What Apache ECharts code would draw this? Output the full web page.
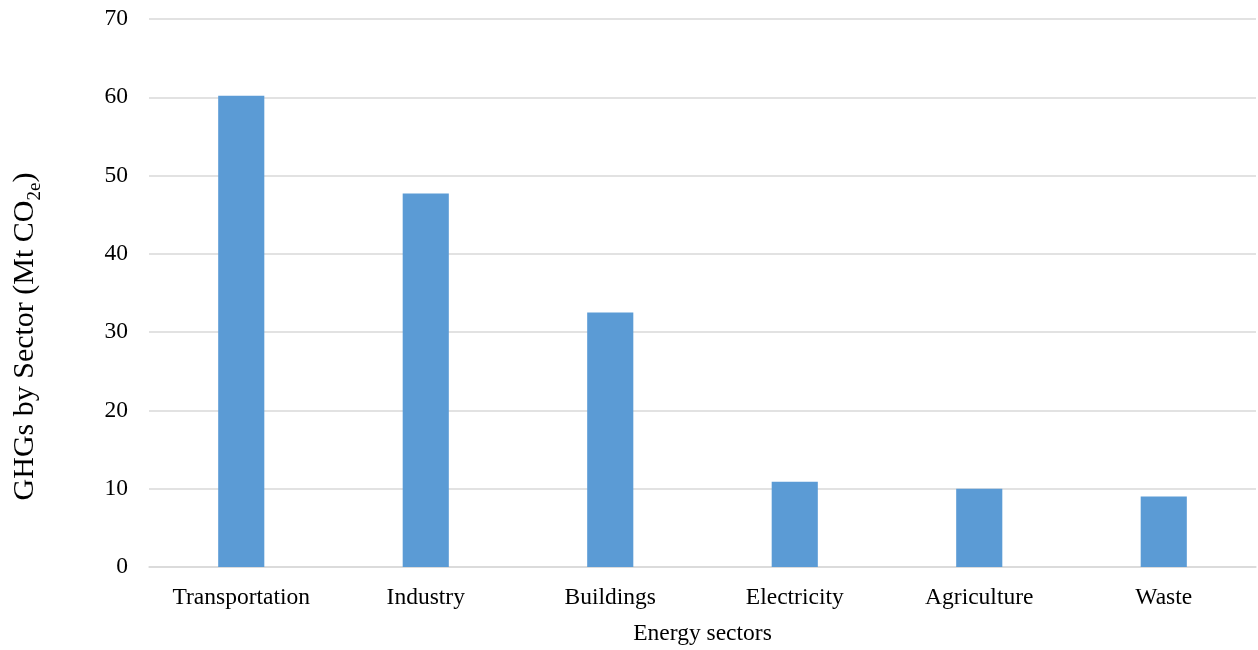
<!DOCTYPE html>
<html>
<head>
<meta charset="utf-8">
<title>GHGs by Sector</title>
<script src="https://cdn.jsdelivr.net/npm/echarts@6/dist/echarts.min.js"></script>
<style>
  html, body { margin: 0; padding: 0; background: #ffffff; }
  #chart { width: 1258px; height: 650px; }
</style>
</head>
<body>
<div id="chart"></div>
<script>
// Sector emissions, Mt CO2e
const sectors = ['Transportation', 'Industry', 'Buildings', 'Electricity', 'Agriculture', 'Waste'];
const emissions = [60.2, 47.7, 32.5, 10.9, 10.0, 9.0];
const yTicks = [0, 10, 20, 30, 40, 50, 60, 70];

const FONT = '"Liberation Serif", "Times New Roman", serif';
const FONT_SIZE = 23.5;

const chart = echarts.init(document.getElementById('chart'), null, { renderer: 'canvas' });

chart.setOption({
  backgroundColor: '#ffffff',
  animation: false,
  grid: { left: 149, right: 2, top: 19, bottom: 83, containLabel: false, outerBoundsMode: 'none' },
  xAxis: {
    type: 'category',
    data: sectors,
    name: 'Energy sectors',
    nameLocation: 'middle',
    nameGap: 55,
    nameTextStyle: { fontFamily: FONT, fontSize: FONT_SIZE, color: '#000000' },
    axisLine: { show: true, lineStyle: { color: '#d9d9d9', width: 1.5 } },
    axisTick: { show: false },
    axisLabel: { fontFamily: FONT, fontSize: FONT_SIZE, color: '#000000', margin: 19, interval: 0 }
  },
  yAxis: {
    type: 'value',
    min: yTicks[0],
    max: yTicks[yTicks.length - 1],
    interval: yTicks[1] - yTicks[0],
    name: '{base|GHGs by Sector (Mt CO}{sub|2e}{base|)}',
    nameLocation: 'middle',
    nameRotate: 90,
    nameGap: 104,
    nameTextStyle: {
      fontFamily: FONT, fontSize: 30, color: '#000000',
      // title sits lower than the plot centre
      padding: [0, 87, 0, 0],
      rich: {
        base: { fontFamily: FONT, fontSize: 30, color: '#000000', lineHeight: 40, verticalAlign: 'middle' },
        sub: { fontFamily: FONT, fontSize: 19, color: '#000000', lineHeight: 15, verticalAlign: 'bottom' }
      }
    },
    axisLine: { show: false },
    axisTick: { show: false },
    axisLabel: { fontFamily: FONT, fontSize: FONT_SIZE, color: '#000000', margin: 21 },
    splitLine: { show: true, lineStyle: { color: '#d9d9d9', width: 1.5 } }
  },
  series: [{
    type: 'bar',
    data: emissions,
    barWidth: '25%',
    itemStyle: { color: '#5b9bd5' }
  }]
});
</script>
</body>
</html>
